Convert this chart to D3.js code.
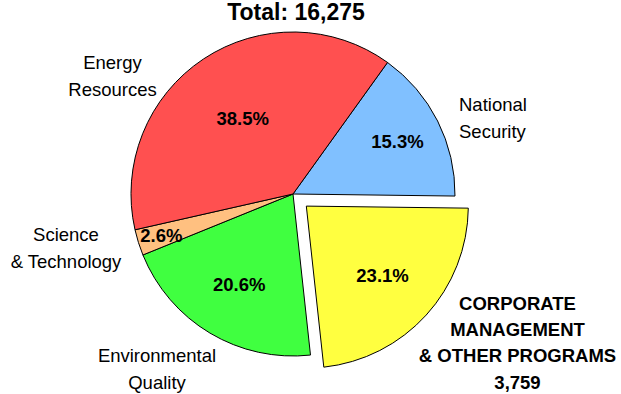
<!DOCTYPE html>
<html>
<head>
<meta charset="utf-8">
<script src="https://cdn.jsdelivr.net/npm/d3@7"></script>
<style>
  html, body { margin: 0; padding: 0; background: #fff; }
  svg { display: block; font-family: "Liberation Sans", Arial, sans-serif; }
</style>
</head>
<body>
<svg id="chart" width="621" height="394"></svg>
<script>
// Budget shares by program area (percent of total)
const categories = ["National Security", "Corporate Management & Other Programs", "Environmental Quality", "Science & Technology", "Energy Resources"];
const shares = [15.3, 23.1, 20.6, 2.6, 38.5];
const colors = ["#80C0FF", "#FFFF40", "#40FF40", "#FFC080", "#FF5050"];
const totalLabel = "Total: 16,275";
const highlightValue = "3,759";
const highlightIndex = 1;

// Layout
const cx = 293, cy = 194, radius = 162;
const startDeg = 35.7;
const explode = 18;
const pctRadius = [117, 103, 105, 138, 91];
// name label anchors relative to pie centre: [dx, dy, anchor, line spacing]
const nameLines = [
  ["National", "Security"],
  ["CORPORATE", "MANAGEMENT", "& OTHER PROGRAMS", highlightValue],
  ["Environmental", "Quality"],
  ["Science", "& Technology"],
  ["Energy", "Resources"]
];
const nameAnchor = [
  [166, -83.3, "start", 27],
  [224.5, 115.7, "middle", 26.3],
  [-136, 167.7, "middle", 27],
  [-227, 46.7, "middle", 27],
  [-180.5, -125, "middle", 27]
];

const svg = d3.select("#chart");
const g = svg.append("g").attr("transform", `translate(${cx},${cy})`);

const rad = d => d * Math.PI / 180;
const pie = d3.pie().sort(null)
  .startAngle(rad(startDeg))
  .endAngle(rad(startDeg) + 2 * Math.PI);
const arcs = pie(shares);
const arc = d3.arc().innerRadius(0).outerRadius(radius);

// pull the highlighted slice out along its bisector
const offset = (d, i) => {
  if (i !== highlightIndex) return [0, 0];
  const mid = (d.startAngle + d.endAngle) / 2;
  return d3.pointRadial(mid, explode);
};

const slices = g.selectAll("g.slice").data(arcs).join("g")
  .attr("class", "slice")
  .attr("transform", (d, i) => `translate(${offset(d, i)})`);

slices.append("path")
  .attr("d", arc)
  .attr("fill", (d, i) => colors[i])
  .attr("stroke", "#000")
  .attr("stroke-width", 1)
  .attr("stroke-linejoin", "round");

slices.append("text")
  .attr("transform", (d, i) => {
    const mid = (d.startAngle + d.endAngle) / 2;
    const [x, y] = d3.pointRadial(mid, pctRadius[i]);
    return `translate(${x},${y + 6.6})`;
  })
  .attr("text-anchor", "middle")
  .attr("font-weight", "bold")
  .attr("font-size", "18.5px")
  .attr("fill", "#000")
  .text((d, i) => shares[i].toFixed(1) + "%");

// Category names
categories.forEach((c, i) => {
  const [dx, dy, anchor, lh] = nameAnchor[i];
  const t = g.append("text")
    .attr("x", dx).attr("y", dy)
    .attr("text-anchor", anchor)
    .attr("font-size", "18.5px")
    .attr("font-weight", i === highlightIndex ? "bold" : "normal")
    .attr("fill", "#000");
  nameLines[i].forEach((line, k) => {
    t.append("tspan")
      .attr("x", dx)
      .attr("dy", k === 0 ? 0 : lh)
      .text(line);
  });
});

// Title
svg.append("text")
  .attr("x", 296).attr("y", 20)
  .attr("text-anchor", "middle")
  .attr("font-weight", "bold")
  .attr("font-size", "23px")
  .text(totalLabel);
</script>
</body>
</html>
